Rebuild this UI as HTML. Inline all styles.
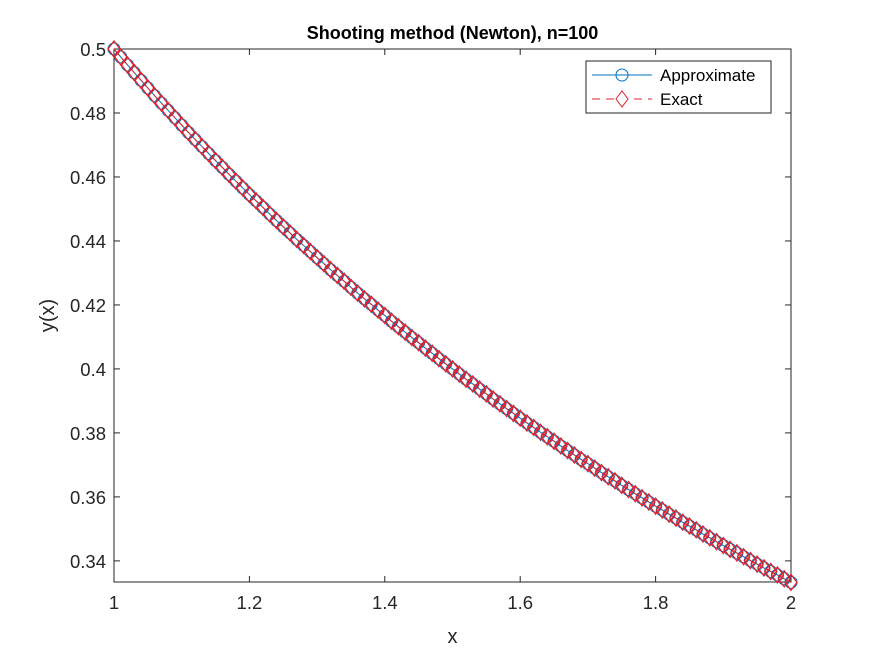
<!DOCTYPE html>
<html><head><meta charset="utf-8"><style>
html,body{margin:0;padding:0;background:#fff;}
svg{display:block;font-family:"Liberation Sans",Arial,sans-serif;}
</style></head><body>
<svg id="chart" width="875" height="656"></svg>
<script>
const xValues = [];
for (let i = 0; i <= 100; i++) xValues.push(1 + i / 100);
const approxValues = [.5000,.4975,.4950,.4926,.4902,.4878,.4854,.4831,.4808,.4785,.4762,.4739,.4717,.4695,.4673,.4651,.4630,.4608,.4587,.4566,.4545,.4525,.4505,.4484,.4464,.4444,.4425,.4405,.4386,.4367,.4348,.4329,.4310,.4292,.4274,.4255,.4237,.4219,.4202,.4184,.4167,.4149,.4132,.4115,.4098,.4082,.4065,.4049,.4032,.4016,.4000,.3984,.3968,.3953,.3937,.3922,.3906,.3891,.3876,.3861,.3846,.3831,.3817,.3802,.3788,.3774,.3759,.3745,.3731,.3717,.3704,.3690,.3676,.3663,.3650,.3636,.3623,.3610,.3597,.3584,.3571,.3559,.3546,.3534,.3521,.3509,.3497,.3484,.3472,.3460,.3448,.3436,.3425,.3413,.3401,.3390,.3378,.3367,.3356,.3344,.3333];
const exactValues = approxValues.slice();
const xTicks = [1, 1.2, 1.4, 1.6, 1.8, 2];
const xTickLabels = ["1","1.2","1.4","1.6","1.8","2"];
const yTicks = [0.34,0.36,0.38,0.40,0.42,0.44,0.46,0.48,0.50];
const yTickLabels = ["0.34","0.36","0.38","0.4","0.42","0.44","0.46","0.48","0.5"];

const L=114,R=791,T=49,B=582, xmin=1,xmax=2,ymin=0.3334,ymax=0.5;
const sx=v=>L+(v-xmin)/(xmax-xmin)*(R-L);
const sy=v=>B-(v-ymin)/(ymax-ymin)*(B-T);
const svg=document.getElementById('chart');
const NS='http://www.w3.org/2000/svg';
function mk(tag,attrs,parent){const e=document.createElementNS(NS,tag);for(const k in attrs)e.setAttribute(k,attrs[k]);(parent||svg).appendChild(e);return e;}

const box=mk('rect',{x:L,y:T,width:R-L,height:B-T,fill:'#fff',stroke:'#262626','stroke-width':1});



xTicks.forEach((t,i)=>{
  const x=sx(t);
  mk('line',{x1:x,x2:x,y1:B,y2:B-6,stroke:'#262626'});
  mk('line',{x1:x,x2:x,y1:T,y2:T+6,stroke:'#262626'});
  const tx=mk('text',{x:x,y:B+27,'text-anchor':'middle','font-size':18.5,fill:'#262626'});
  tx.textContent=xTickLabels[i];
  
  
});
yTicks.forEach((t,i)=>{
  const y=sy(t);
  mk('line',{x1:L,x2:L+6,y1:y,y2:y,stroke:'#262626'});
  mk('line',{x1:R,x2:R-6,y1:y,y2:y,stroke:'#262626'});
  const tx=mk('text',{x:L-8,y:y+7,'text-anchor':'end','font-size':18.5,fill:'#262626'});
  tx.textContent=yTickLabels[i];
  
  
});

const title=mk('text',{x:(L+R)/2,y:39,'text-anchor':'middle','font-size':18,'font-weight':'bold',fill:'#000'});
title.textContent='Shooting method (Newton), n=100';


const xl=mk('text',{x:(L+R)/2,y:643,'text-anchor':'middle','font-size':20,fill:'#262626'});
xl.textContent='x';


const yl=mk('text',{x:0,y:0,'text-anchor':'middle','font-size':20,fill:'#262626',transform:'translate(54,'+((T+B)/2)+') rotate(-90)'});
yl.textContent='y(x)';



const g1=mk('g',{});


mk('polyline',{points:xValues.map((x,i)=>sx(x)+','+sy(approxValues[i])).join(' '),fill:'none',stroke:'#0072BD','stroke-width':1},g1);
xValues.forEach((x,i)=>{
  const c=mk('circle',{cx:sx(x),cy:sy(approxValues[i]),r:6,fill:'none',stroke:'#0072BD','stroke-width':1},g1);
  
  
});
const g2=mk('g',{});


mk('polyline',{points:xValues.map((x,i)=>sx(x)+','+sy(exactValues[i])).join(' '),fill:'none',stroke:'#E0202A','stroke-width':1,'stroke-dasharray':'8,4'},g2);
xValues.forEach((x,i)=>{
  const X=sx(x),Y=sy(exactValues[i]);
  const d=mk('polygon',{points:`${X},${Y-8} ${X+6},${Y} ${X},${Y+8} ${X-6},${Y}`,fill:'none',stroke:'#E0202A','stroke-width':1.3},g2);
  
  
});

const lg=mk('g',{});


mk('rect',{x:586,y:61,width:185,height:52,fill:'#fff',stroke:'#262626','stroke-width':1},lg);
mk('line',{x1:592,x2:652,y1:75,y2:75,stroke:'#0072BD'},lg);
mk('circle',{cx:622,cy:75,r:6,fill:'none',stroke:'#0072BD'},lg);
const t1=mk('text',{x:660,y:81,'font-size':17,fill:'#000'},lg);
t1.textContent='Approximate';


mk('line',{x1:592,x2:652,y1:99,y2:99,stroke:'#E0202A','stroke-dasharray':'8,6'},lg);
mk('polygon',{points:'622,91 628,99 622,107 616,99',fill:'#fff',stroke:'#E0202A'},lg);
const t2=mk('text',{x:660,y:105,'font-size':17,fill:'#000'},lg);
t2.textContent='Exact';


</script>
</body></html>
